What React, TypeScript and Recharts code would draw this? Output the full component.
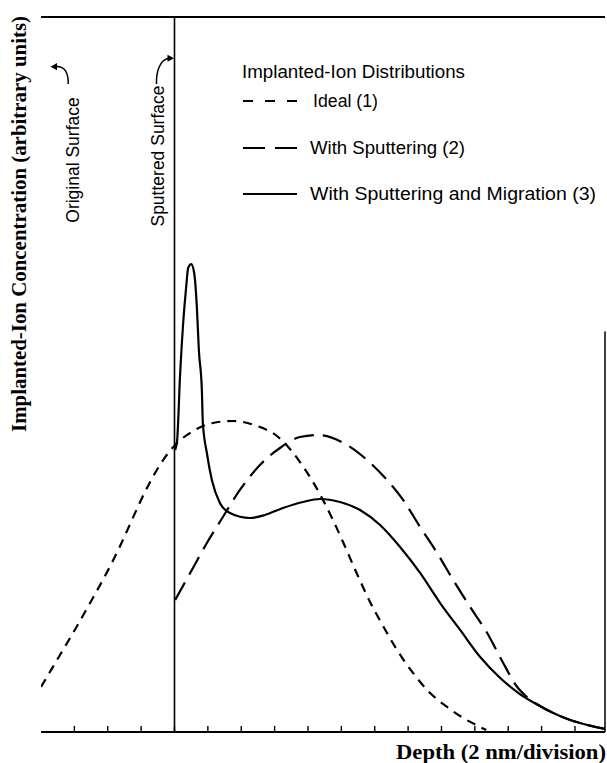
import React from 'react';
import { LineChart, Line, XAxis, YAxis, ReferenceLine } from 'recharts';

// Depth in divisions (2 nm/division), concentration in arbitrary units (0-100 full scale)
const depthTicks = [1, 2, 3, 4, 5, 6, 7, 8, 9, 10, 11, 12, 13, 14, 15, 16];

const idealDepth = [0, 0.48, 0.96, 1.47, 1.98, 2.37, 2.67, 2.97, 3.27, 3.66, 4.02, 4.56, 5.15, 5.75, 6.47, 7.07, 7.46, 7.76, 8.15, 8.45, 8.75, 9.05, 9.47, 9.86, 10.25, 10.67, 11.15, 11.66, 12.17, 12.65, 13.16, 13.34];
const idealConc = [6.29, 10.07, 13.85, 18.04, 22.38, 26.01, 29.09, 32.17, 34.97, 38.04, 40.14, 42.10, 43.22, 43.50, 42.80, 41.40, 39.58, 37.76, 34.97, 32.45, 29.65, 26.57, 22.10, 18.18, 14.83, 11.47, 8.25, 5.45, 3.50, 1.96, 0.70, 0.28];

const sputDepth = [4.02, 4.47, 4.97, 5.45, 5.96, 6.56, 7.16, 7.76, 8.30, 9.17, 9.77, 10.37, 10.85, 11.36, 11.87, 12.35, 12.86, 13.37, 13.85, 14.27, 14.56, 14.95, 15.55, 16.15, 16.9];
const sputConc = [18.46, 22.24, 26.43, 30.07, 33.85, 37.34, 39.72, 41.26, 41.54, 40.14, 38.04, 35.24, 32.45, 28.67, 25.03, 21.26, 17.48, 13.85, 9.65, 6.29, 4.90, 3.64, 2.24, 1.26, 0.42];

const migDepth = [4.02, 4.08, 4.17, 4.26, 4.35, 4.41, 4.50, 4.59, 4.67, 4.73, 4.82, 4.85, 4.97, 5.12, 5.36, 5.66, 6.26, 6.71, 7.25, 7.85, 8.36, 8.96, 9.56, 10.16, 10.76, 11.36, 11.96, 12.56, 13.16, 13.76, 14.35, 14.95, 15.55, 16.15, 16.9];
const migConc = [39.44, 40.84, 50.21, 57.20, 62.24, 64.90, 65.45, 64.20, 59.44, 53.43, 47.83, 43.22, 39.02, 35.24, 32.03, 30.63, 29.93, 30.35, 31.33, 32.17, 32.59, 32.17, 31.05, 28.95, 25.87, 22.24, 18.04, 14.27, 10.49, 7.55, 5.31, 3.64, 2.24, 1.26, 0.42];

const seriesNames = ['Ideal (1)', 'With Sputtering (2)', 'With Sputtering and Migration (3)'];
const legendTitle = 'Implanted-Ion Distributions';
const yLabel = 'Implanted-Ion Concentration (arbitrary units)';
const xLabel = 'Depth (2 nm/division)';
const surfaceLabels = ['Original Surface', 'Sputtered Surface'];
const sputteredSurfaceDepth = 4;
const depthMax = 16.9;
const rightFrameTop = 56;
const tickLen = 0.85;

const build = (xs: number[], ys: number[]) => xs.map((d, i) => ({ depth: d, conc: ys[i] }));
const idealData = build(idealDepth, idealConc);
const sputData = build(sputDepth, sputConc);
const migData = build(migDepth, migConc);

const W = 607;
const H = 763;
const sans = '"Liberation Sans", Arial, Helvetica, sans-serif';
const serif = '"Liberation Serif", "Times New Roman", serif';

export default function App() {
  return (
    <div style={{ position: 'absolute', left: 0, top: 0, width: W, height: H, background: '#fff' }}>
      <LineChart width={W} height={H} margin={{ top: 17, right: 2, bottom: 31, left: 41 }}>
        <XAxis
          type="number"
          dataKey="depth"
          domain={[0, depthMax]}
          ticks={depthTicks}
          allowDataOverflow
          mirror
          orientation="bottom"
          tick={false}
          tickLine={false}
          axisLine={{ stroke: '#000', strokeWidth: 2 }}
        />
        <YAxis
          type="number"
          domain={[0, 100]}
          allowDataOverflow
          width={0}
          tick={false}
          tickLine={false}
          axisLine={{ stroke: '#000', strokeWidth: 2 }}
        />
        <ReferenceLine y={100} stroke="#000" strokeWidth={2} />
        <ReferenceLine x={sputteredSurfaceDepth} stroke="#000" strokeWidth={1.6} />
        <ReferenceLine segment={[{ x: depthMax, y: 0 }, { x: depthMax, y: rightFrameTop }]} stroke="#000" strokeWidth={1.5} />
        {depthTicks.map((t) => (
          <ReferenceLine key={t} segment={[{ x: t, y: 0 }, { x: t, y: tickLen }]} stroke="#000" strokeWidth={1.4} />
        ))}
        <Line data={idealData} dataKey="conc" name={seriesNames[0]} type="monotone" stroke="#000" strokeWidth={2.2} strokeDasharray="9 7" dot={false} activeDot={false} isAnimationActive={false} />
        <Line data={sputData} dataKey="conc" name={seriesNames[1]} type="monotone" stroke="#000" strokeWidth={2.2} strokeDasharray="20 9" dot={false} activeDot={false} isAnimationActive={false} />
        <Line data={migData} dataKey="conc" name={seriesNames[2]} type="monotone" stroke="#000" strokeWidth={2.2} dot={false} activeDot={false} isAnimationActive={false} />
      </LineChart>
      <svg width={W} height={H} style={{ position: 'absolute', left: 0, top: 0, pointerEvents: 'none' }}>
        {/* Y axis title */}
        <text transform="translate(26,224) rotate(-90)" textAnchor="middle" fontFamily={serif} fontWeight="bold" fontSize={20} textLength={416} lengthAdjust="spacingAndGlyphs">{yLabel}</text>
        {/* X axis title */}
        <text x={606} y={759} textAnchor="end" fontFamily={serif} fontWeight="bold" fontSize={20.5} textLength={210} lengthAdjust="spacingAndGlyphs">{xLabel}</text>
        {/* surface labels */}
        <text transform="translate(78.5,160) rotate(-90)" textAnchor="middle" fontFamily={sans} fontSize={17.5}>{surfaceLabels[0]}</text>
        <text transform="translate(163.5,156) rotate(-90)" textAnchor="middle" fontFamily={sans} fontSize={17.5}>{surfaceLabels[1]}</text>
        {/* arrows */}
        <path d="M 68.3 84 C 68.3 73, 65 66, 56 66.5" fill="none" stroke="#000" strokeWidth={1.5} />
        <path d="M 50.5 66.7 L 57 63 L 57 70.2 Z" fill="#000" />
        <path d="M 156.5 84 C 156 72, 160 60, 168 58.5" fill="none" stroke="#000" strokeWidth={1.5} />
        <path d="M 174 58.3 L 167.5 54.8 L 167.5 61.8 Z" fill="#000" />
        {/* legend */}
        <text x={242} y={78} fontFamily={sans} fontSize={17.5} textLength={223} lengthAdjust="spacingAndGlyphs">{legendTitle}</text>
        <line x1={243} y1={101} x2={297} y2={101} stroke="#000" strokeWidth={2} strokeDasharray="10 12" />
        <text x={313} y={107} fontFamily={sans} fontSize={17.5} textLength={65} lengthAdjust="spacingAndGlyphs">{seriesNames[0]}</text>
        <line x1={243} y1={148} x2={297} y2={148} stroke="#000" strokeWidth={2} strokeDasharray="22 10" />
        <text x={310} y={154} fontFamily={sans} fontSize={17.5} textLength={155} lengthAdjust="spacingAndGlyphs">{seriesNames[1]}</text>
        <line x1={243} y1={194} x2={297} y2={194} stroke="#000" strokeWidth={2} />
        <text x={310} y={200} fontFamily={sans} fontSize={17.5} textLength={286} lengthAdjust="spacingAndGlyphs">{seriesNames[2]}</text>
      </svg>
    </div>
  );
}
